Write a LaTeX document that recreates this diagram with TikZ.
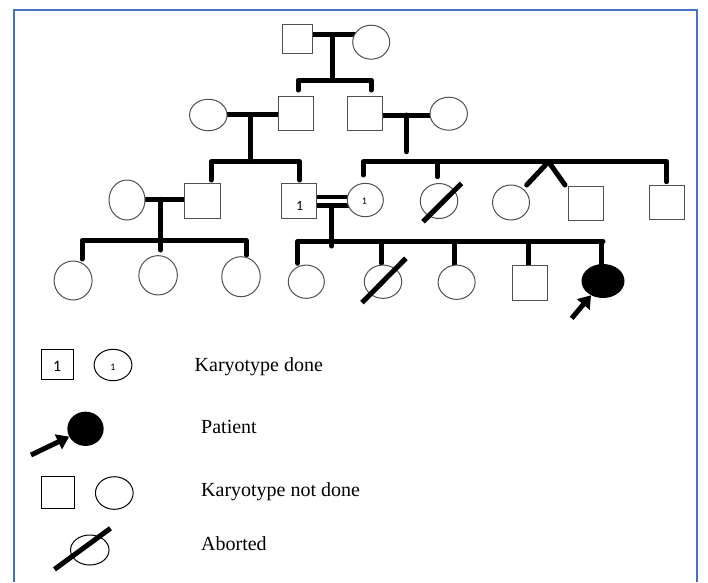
\documentclass[tikz,border=0pt]{standalone}
\usepackage{fontspec}
\setmainfont{Liberation Serif}
\newfontfamily\digitfont{Carlito}
\usetikzlibrary{shapes.geometric,arrows.meta,backgrounds}
\definecolor{frameblue}{RGB}{68,114,196}
\definecolor{symline}{RGB}{80,80,80}

\begin{document}
\begin{tikzpicture}[x=1pt,y=-1pt,
  male/.style={rectangle, draw=symline, line width=1pt, fill=white, inner sep=0pt,
    minimum width=35pt, minimum height=34pt},
  female/.style={ellipse, draw=symline, line width=1pt, fill=white, inner sep=0pt,
    minimum width=37pt, minimum height=34pt},
  sz/.style 2 args={minimum width=#1pt, minimum height=#2pt},
  patient/.style={ellipse, fill=black, inner sep=0pt, minimum width=43pt, minimum height=34pt},
  bond/.style={line width=5pt, line cap=round, line join=round},
  slash/.style={line width=5pt},
  pointer/.style={line width=5pt, -{Triangle[length=12pt,width=16pt]}},
  lgsym/.style={draw=black},
  lgtext/.style={anchor=base west, inner sep=0pt, font=\fontsize{20}{24}\selectfont},
  bigdigit/.style={inner sep=0pt, font=\digitfont\fontsize{14}{14}\selectfont},
  smalldigit/.style={inner sep=0pt, font=\digitfont\fontsize{10}{10}\selectfont}
]
\useasboundingbox (0,0) rectangle (708,582);
\draw[frameblue, line width=2pt] (13.5,582) -- (13.5,9.5) -- (696.5,9.5) -- (696.5,582);

% ---------- Generation I
\node[male, sz={30}{28.5}] (a1) at (297.5,39.2) {};
\node[female, sz={37}{34}] (a2) at (371.2,42.2) {};

% ---------- Generation II
\node[female, sz={37.5}{31.5}] (b1) at (208.3,115) {};
\node[male] (b2) at (295.5,113.8) {};
\node[male] (b3) at (365.4,113.8) {};
\node[female, sz={37.4}{33}] (b4) at (448.7,113.7) {};

% ---------- Generation III
\node[female, sz={36}{40}] (c1) at (127,200) {};
\node[male, sz={36}{35}] (c2) at (202.5,201) {};
\node[male, sz={35}{35}] (c3) at (299.3,200.8) {};
\node[bigdigit] (c3n) at (299.7,205.6) {1};
\node[female, sz={36}{33.4}] (c4) at (365.3,200) {};
\node[smalldigit] (c4n) at (364.4,200.8) {1};
\node[female, sz={37.5}{35}] (c5) at (439,201) {};
\node[female, sz={37}{35}] (c6) at (511,202.5) {};
\node[male, sz={35}{33.5}] (c7) at (585.8,203.3) {};
\node[male, sz={35}{34}] (c8) at (666.7,202) {};

% ---------- Generation IV
\node[female, sz={38}{39}] (d1) at (73.1,280.5) {};
\node[female, sz={38.5}{39.3}] (d2) at (158.1,275.3) {};
\node[female, sz={38.5}{40}] (d3) at (241,276.7) {};
\node[female, sz={36}{33.3}] (d4) at (306.3,281.7) {};
\node[female, sz={37.5}{33.3}] (d5) at (383,281.7) {};
\node[female, sz={37}{34.3}] (d6) at (456.6,282.2) {};
\node[male, sz={35}{34.7}] (d7) at (530.1,283.3) {};
\node[patient] (d8) at (603,281) {};

% ---------- Lines of descent (behind the symbols)
\begin{scope}[on background layer]
  % I -> II
  \coordinate (m1) at (332.3,34.5);
  \coordinate (s1) at (332.3,80);
  \draw[bond] (a1 |- m1) -- (a2 |- m1);
  \draw[bond] (m1) -- (s1);
  \coordinate (s1l) at (298.2,80);  \coordinate (s1r) at (371,80);
  \coordinate (e1l) at (298.2,90);  \coordinate (e1r) at (371,90);
  \draw[bond] (e1l) -- (s1l) -- (s1r) -- (e1r);

  % II -> III, left couple
  \coordinate (m2a) at (250,114.8);
  \coordinate (s2a) at (250,161.7);
  \draw[bond] (b1 |- m2a) -- (b2 |- m2a);
  \draw[bond] (m2a) -- (s2a);
  \coordinate (s2al) at (211,161.7);   \coordinate (s2ar) at (299.8,161.7);
  \coordinate (e2al) at (211,180);     \coordinate (e2ar) at (299.8,180);
  \draw[bond] (e2al) -- (s2al) -- (s2ar) -- (e2ar);

  % II -> III, right couple
  \coordinate (m2b) at (406.2,115);
  \coordinate (t2b) at (406.2,151.7);
  \draw[bond] (b3 |- m2b) -- (b4 |- m2b);
  \draw[bond] (m2b) -- (t2b);
  \coordinate (s2bl) at (363.3,161.7);  \coordinate (s2br) at (666.4,161.7);
  \coordinate (e2bl) at (363.3,175);    \coordinate (e2br) at (666.4,181.7);
  \draw[bond] (e2bl) -- (s2bl) -- (s2br) -- (e2br);
  \coordinate (s2bm) at (437.5,161.7);  \coordinate (e2bm) at (437.5,176.7);
  \draw[bond] (s2bm) -- (e2bm);
  \coordinate (tw) at (548.5,161.7);
  \coordinate (twl) at (526.7,185);     \coordinate (twr) at (565,185);
  \draw[bond] (twl) -- (tw) -- (twr);

  % III -> IV, left couple
  \coordinate (m3a) at (160.5,199.3);
  \coordinate (s3a) at (160.5,240.7);
  \draw[bond] (c1 |- m3a) -- (c2 |- m3a);
  \draw[bond] (m3a) -- (s3a);
  \coordinate (s3al) at (82,240.7);     \coordinate (s3ar) at (246.6,240.7);
  \coordinate (e3al) at (82,259);       \coordinate (e3ar) at (246.6,255);
  \draw[bond] (e3al) -- (s3al) -- (s3ar) -- (e3ar);
  \coordinate (e3am) at (160.5,250);
  \draw[bond] (s3a) -- (e3am);

  % III -> IV, consanguineous couple
  \coordinate (m3u) at (331.7,197.2);
  \coordinate (m3d) at (331.7,205.5);
  \draw[line width=4.3pt] (c3 |- m3u) -- (c4 |- m3u);
  \draw[line width=4.3pt] (c3 |- m3d) -- (c4 |- m3d);
  \coordinate (s3b) at (331.7,246);
  \draw[bond] (m3d) -- (s3b);
  \coordinate (s3bl) at (297.7,241.5);  \coordinate (s3br) at (603,241.5);
  \coordinate (e3bl) at (297.7,263.3);
  \draw[bond] (e3bl) -- (s3bl) -- (s3br);
  \foreach \xx/\yy in {381.4/263.3, 454.8/265, 528.5/266, 601/270}
    \draw[bond] (\xx,241.5) -- (\xx,\yy);
\end{scope}

% ---------- Aborted marks and proband arrow
\draw[slash] (423,221.7) -- (461.5,183.3);
\draw[slash] (362,302.7) -- (405.9,258.3);
\coordinate (pa) at (571.7,318.3);
\draw[pointer] (pa) -- (d8);

% ---------- Key
\node[male, lgsym, sz={32.6}{30}] (k1) at (57.3,364.3) {};
\node[inner sep=0pt, font=\digitfont\fontsize{16}{16}\selectfont] (k1n) at (57.3,366) {1};
\node[female, lgsym, sz={37.8}{31.4}] (k2) at (113,365) {};
\node[smalldigit] (k2n) at (113,367) {1};
\node[lgtext] (k3) at (194.5,371.7) {Karyotype done};

\node[patient, sz={36.3}{34.3}] (p1) at (85.5,428.8) {};
\coordinate (p0) at (31,455);
\draw[pointer] (p0) -- (p1);
\node[lgtext] (p2) at (201,433.3) {Patient};

\node[male, lgsym, sz={33}{31.6}] (n1) at (58.4,492.5) {};
\node[female, lgsym, sz={37.7}{32.6}] (n2) at (114.3,493) {};
\node[lgtext] (n3) at (201,496.7) {Karyotype not done};

\node[female, lgsym, sz={38.5}{30}] (ab1) at (89.8,550) {};
\coordinate (ab0) at (54.5,569.3);
\coordinate (ab9) at (110.5,528.3);
\draw[slash] (ab0) -- (ab9);
\node[lgtext] (ab2) at (201,550) {Aborted};
\end{tikzpicture}
\end{document}
